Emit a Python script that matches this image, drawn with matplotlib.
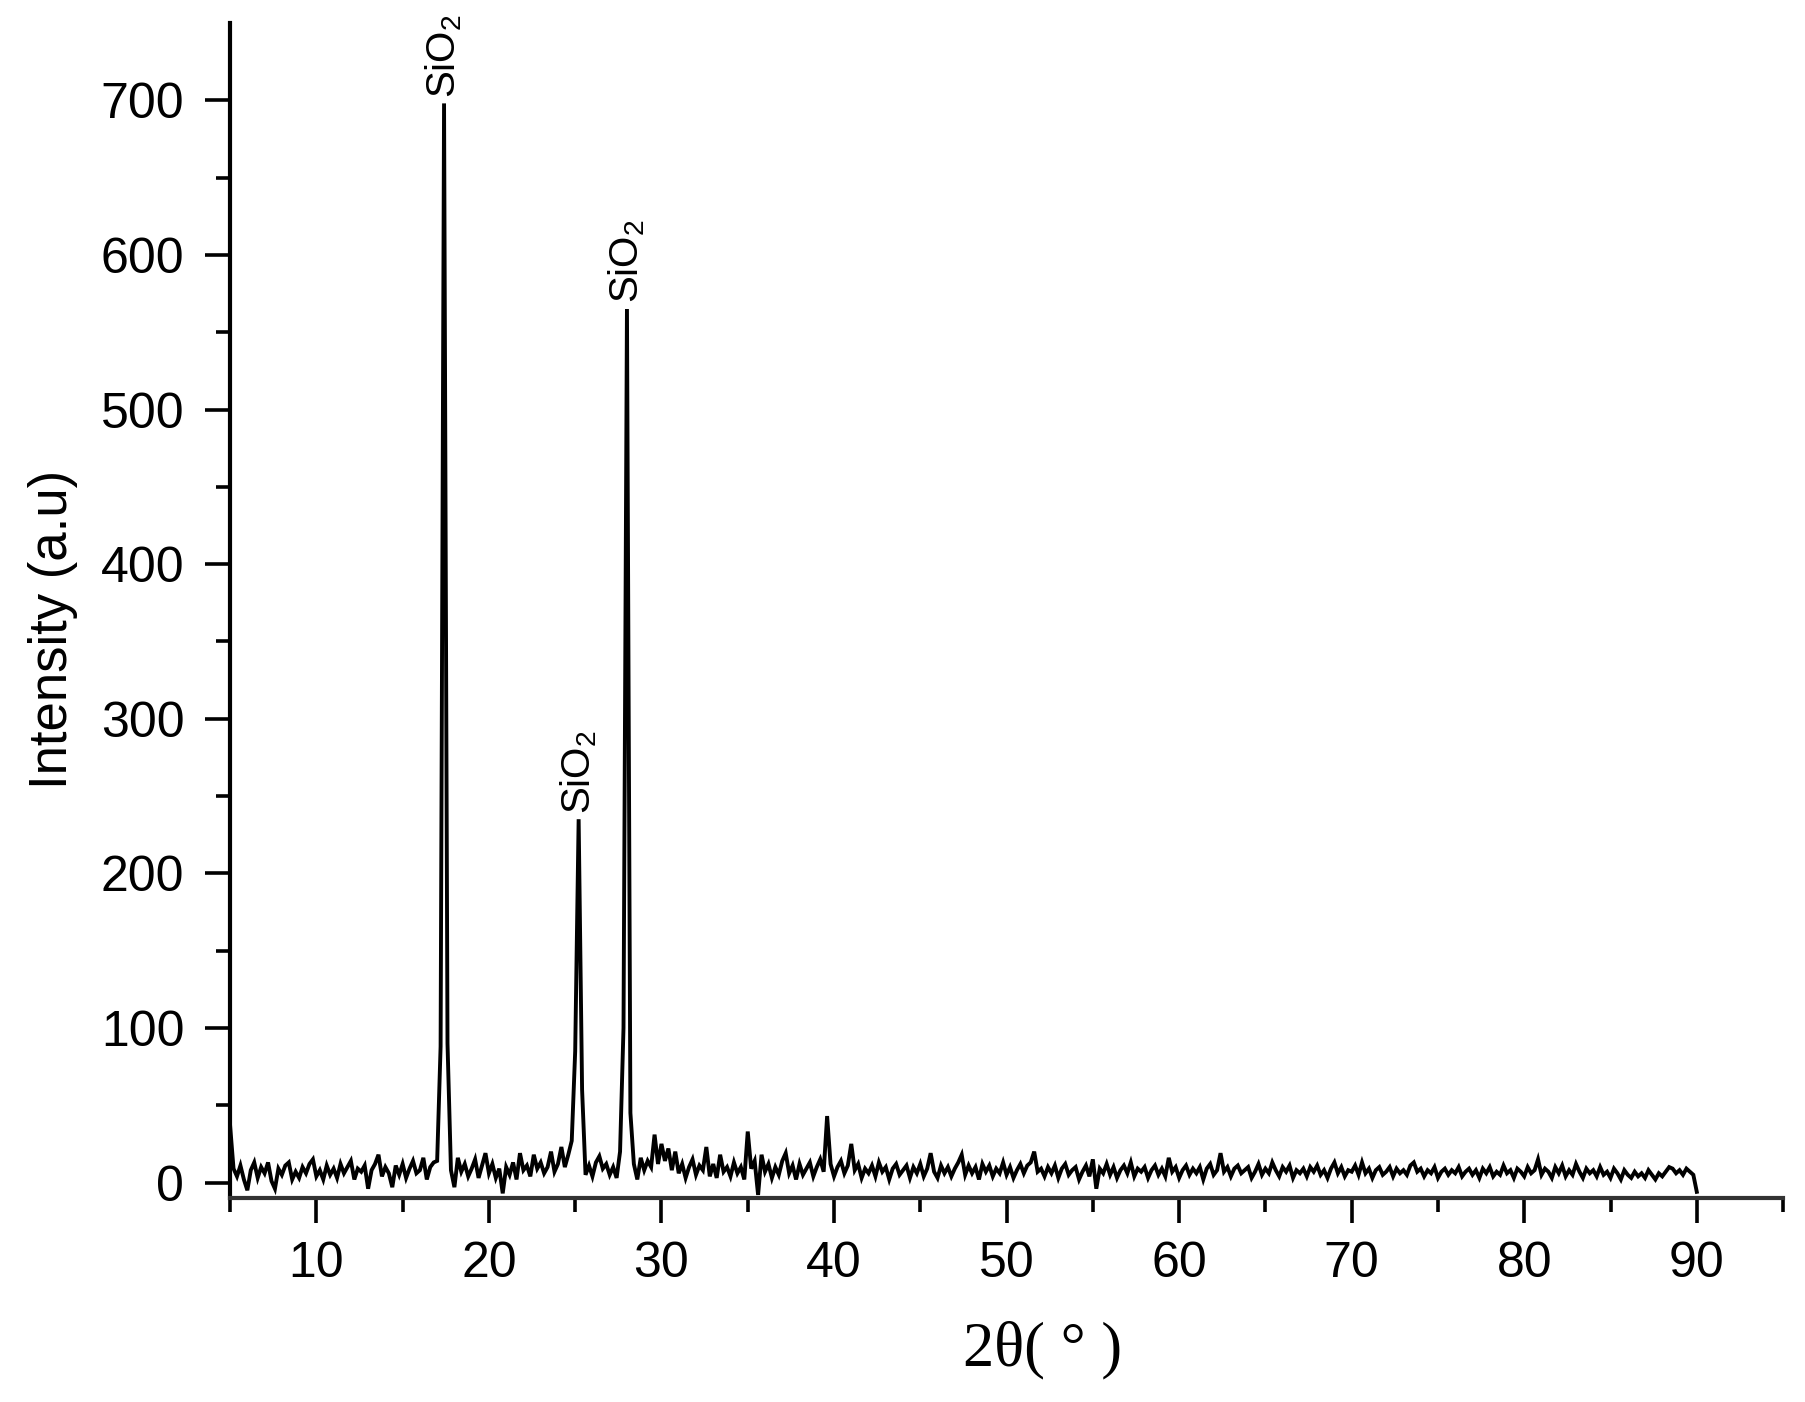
import numpy as np
import matplotlib.pyplot as plt
from matplotlib.ticker import FixedLocator

plt.rcParams['font.family'] = ['Liberation Sans', 'DejaVu Sans']
plt.rcParams['mathtext.fontset'] = 'custom'
plt.rcParams['mathtext.rm'] = 'Liberation Sans'
plt.rcParams['mathtext.default'] = 'regular'

# XRD pattern on a 0.2 deg grid (5.0 ... 90.0)
intensity = [
    37, 9, 4, 11, 2,        # 5
    -5, 8, 13, 3, 10,       # 6
    6, 13, 1, -4, 9,        # 7
    5, 11, 13, 2, 7,        # 8
    3, 10, 6, 12, 15,       # 9
    4, 8, 2, 11, 5,         # 10
    9, 3, 12, 6, 10,        # 11
    14, 2, 9, 7, 11,        # 12
    -4, 8, 12, 18, 4,       # 13
    10, 6, -3, 11, 5,       # 14
    12, 3, 9, 14, 6,        # 15
    8, 16, 2, 10, 13,       # 16
    14, 88, 698, 90, 8,     # 17
    -3, 16, 7, 12, 4,       # 18
    9, 15, 3, 11, 19,       # 19
    6, 12, 3, 9, -7,        # 20
    10, 5, 13, 2, 19,       # 21
    8, 11, 4, 18, 9,        # 22
    13, 6, 10, 20, 7,       # 23
    12, 23, 10, 18, 27,     # 24
    85, 235, 60, 5, 11,     # 25
    4, 13, 17, 9, 12,       # 26
    5, 10, 3, 20, 100,      # 27
    565, 45, 12, 2, 16,     # 28
    8, 14, 10, 31, 12,      # 29
    25, 14, 22, 8, 20,      # 30
    6, 12, 3, 10, 15,       # 31
    5, 11, 8, 23, 4,        # 32
    12, 3, 18, 7, 10,       # 33
    4, 13, 6, 10, 2,        # 34
    33, 9, 14, -8, 18,      # 35
    7, 12, 3, 10, 5,        # 36
    14, 19, 6, 11, 2,       # 37
    12, 5, 9, 13, 4,        # 38
    10, 15, 7, 43, 12,      # 39
    4, 10, 14, 6, 11,       # 40
    25, 8, 12, 3, 9,        # 41
    6, 11, 4, 13, 7,        # 42
    10, 2, 9, 12, 5,        # 43
    8, 11, 3, 10, 6,        # 44
    12, 4, 9, 19, 7,        # 45
    3, 11, 6, 10, 4,        # 46
    9, 13, 18, 5, 11,       # 47
    6, 10, 2, 12, 7,        # 48
    11, 4, 9, 6, 13,        # 49
    5, 10, 3, 8, 12,        # 50
    6, 11, 13, 20, 7,       # 51
    9, 4, 10, 6, 11,        # 52
    3, 9, 12, 5, 8,         # 53
    10, 2, 7, 11, 4,        # 54
    15, -4, 9, 6, 12,       # 55
    5, 10, 3, 8, 11,        # 56
    6, 13, 4, 9, 7,         # 57
    10, 3, 8, 11, 5,        # 58
    9, 4, 16, 7, 10,        # 59
    3, 8, 11, 5, 9,         # 60
    6, 10, 2, 9, 12,        # 61
    5, 8, 19, 7, 10,        # 62
    4, 9, 11, 6, 8,         # 63
    10, 3, 7, 12, 5,        # 64
    9, 6, 13, 8, 4,         # 65
    10, 7, 11, 3, 8,        # 66
    6, 9, 4, 10, 7,         # 67
    11, 5, 8, 3, 9,         # 68
    13, 6, 10, 4, 8,        # 69
    7, 11, 5, 13, 6,        # 70
    9, 3, 8, 10, 5,         # 71
    7, 10, 4, 9, 6,         # 72
    8, 5, 11, 13, 7,        # 73
    9, 4, 8, 6, 10,         # 74
    3, 7, 9, 5, 8,          # 75
    6, 10, 4, 7, 9,         # 76
    5, 8, 3, 9, 6,          # 77
    10, 4, 7, 5, 11,        # 78
    6, 8, 3, 9, 7,          # 79
    4, 10, 6, 8, 15,        # 80
    5, 9, 7, 3, 10,         # 81
    6, 11, 4, 8, 5,         # 82
    12, 7, 3, 9, 6,         # 83
    8, 4, 10, 5, 7,         # 84
    3, 9, 6, 2, 8,          # 85
    5, 3, 7, 4, 6,          # 86
    3, 8, 5, 2, 6,          # 87
    4, 7, 10, 9, 6,         # 88
    8, 5, 9, 7, 5,          # 89
    -6,                     # 90
]
two_theta = np.linspace(5, 90, len(intensity))

peak_pos = [17.4, 25.2, 28.0]
peak_int = [698, 235, 565]
peak_labels = ['SiO$_2$', 'SiO$_2$', 'SiO$_2$']

xticks = [10, 20, 30, 40, 50, 60, 70, 80, 90]
xminor = [5, 15, 25, 35, 45, 55, 65, 75, 85, 95]
yticks = [0, 100, 200, 300, 400, 500, 600, 700]
yminor = [50, 150, 250, 350, 450, 550, 650]

fig = plt.figure(figsize=(18.06, 14.02), dpi=100)
ax = fig.add_axes([0.1274, 0.1455, 0.8599, 0.8381])

ax.plot(two_theta, intensity, color='black', lw=2.8, solid_joinstyle='miter')

for x, y, lab in zip(peak_pos, peak_int, peak_labels):
    ax.annotate(lab, xy=(x, y), xytext=(0, 4), textcoords='offset points',
                rotation=90, ha='center', va='bottom', fontsize=29)

ax.set_xlim(5, 95)
ax.set_ylim(-10, 750)
ax.spines['top'].set_visible(False)
ax.spines['right'].set_visible(False)
ax.spines['left'].set_linewidth(3)
ax.spines['bottom'].set_linewidth(3)
ax.spines['bottom'].set_color('#333333')

ax.xaxis.set_major_locator(FixedLocator(xticks))
ax.xaxis.set_minor_locator(FixedLocator(xminor))
ax.yaxis.set_major_locator(FixedLocator(yticks))
ax.yaxis.set_minor_locator(FixedLocator(yminor))
ax.tick_params(which='major', direction='out', length=18, width=2.6, labelsize=36)
ax.tick_params(axis='x', which='major', pad=13)
ax.tick_params(axis='y', which='major', pad=15)
ax.tick_params(which='minor', direction='out', length=10, width=2.6)

ax.set_ylabel('Intensity (a.u)', fontsize=38)
ax.yaxis.set_label_coords(-0.098, 0.484)
ax.set_xlabel('2θ( ° )', fontsize=45, family=['Liberation Serif', 'DejaVu Serif'])
ax.xaxis.set_label_coords(0.523, -0.105)

fig.savefig('out.png', dpi=100)
